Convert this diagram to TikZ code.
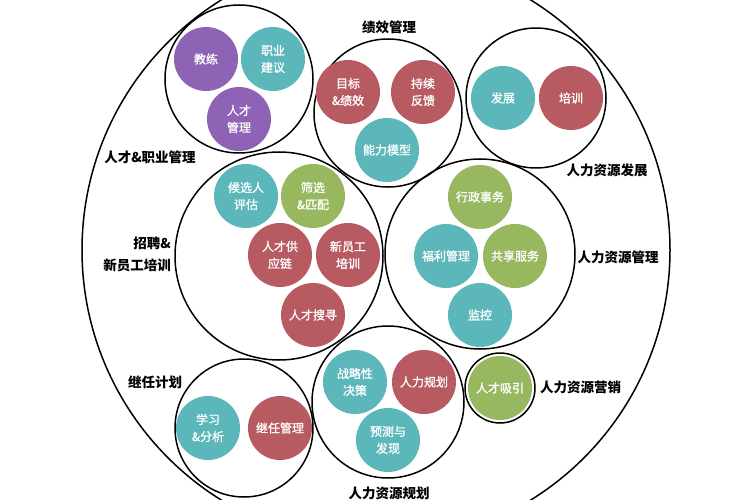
\documentclass[tikz,border=0pt]{standalone}
\usepackage{fontspec}
\setmainfont{Noto Sans CJK SC}
\newfontfamily\bubfont[FakeBold=1.2]{Noto Sans CJK SC}
\definecolor{hrpurple}{RGB}{142,98,180}
\definecolor{hrteal}{RGB}{92,183,186}
\definecolor{hrred}{RGB}{183,90,98}
\definecolor{hrgreen}{RGB}{152,184,96}
\begin{document}
\begin{tikzpicture}[x=1pt,y=-1pt,
  bub/.style={circle, fill=#1, text=white, minimum size=64pt, inner sep=0pt, align=center, font=\bubfont\fontsize{12}{17}\selectfont},
  grp/.style={circle, draw=black, line width=1.5pt, inner sep=0pt, minimum size=#1},
  lab/.style={font=\fontsize{13.5}{22}\selectfont\bfseries, text=black, inner sep=0pt}]
\useasboundingbox (0,0) rectangle (750,500);
\fill[white] (0,0) rectangle (750,500);
\clip (0,0) rectangle (750,500);
\node[grp=588pt] (outer) at (376,250) {};
% group 1
\node[grp=148pt] (g1) at (239,79) {};
\node[bub=hrpurple] (jl) at (206,59) {教练};
\node[bub=hrteal] (zyjy) at (273,59) {职业\\建议};
\node[bub=hrpurple] (rcgl) at (239,119) {人才\\管理};
\node[lab] (l1) at (150,157) {人才\&职业管理};
% group 2
\node[grp=148pt] (g2) at (388,113) {};
\node[bub=hrred] (mb) at (348,92) {目标\\\&绩效};
\node[bub=hrred] (cx) at (423,92) {持续\\反馈};
\node[bub=hrteal] (nl) at (387,150) {能力模型};
\node[lab] (l2) at (389,27) {绩效管理};
% group 3
\node[grp=140pt] (g3) at (536,98) {};
\node[bub=hrteal] (fz) at (503,98) {发展};
\node[bub=hrred] (px) at (571,98) {培训};
\node[lab] (l3) at (607,170) {人力资源发展};
% group 4
\node[grp=208pt] (g4) at (279,256) {};
\node[bub=hrteal] (hx) at (246,196) {候选人\\评估};
\node[bub=hrgreen] (sx) at (313,196) {筛选\\\&匹配};
\node[bub=hrred] (gyl) at (280,255) {人才供\\应链};
\node[bub=hrred] (xyg) at (348,255) {新员工\\培训};
\node[bub=hrred] (ss) at (313,315) {人才搜寻};
\node[lab, anchor=east, align=right] (l4) at (171,254) {招聘\&\\新员工培训};
% group 5
\node[grp=190pt] (g5) at (480,254) {};
\node[bub=hrgreen] (xz) at (480,197) {行政事务};
\node[bub=hrteal] (fl) at (446,256) {福利管理};
\node[bub=hrgreen] (gx) at (515,256) {共享服务};
\node[bub=hrteal] (jk) at (480,315) {监控};
\node[lab] (l5) at (618,257) {人力资源管理};
% group 6
\node[grp=138pt] (g6) at (244,428) {};
\node[bub=hrteal] (xxfx) at (208,428) {学习\\\&分析};
\node[bub=hrred] (jrgl) at (280,428) {继任管理};
\node[lab] (l6) at (155,382) {继任计划};
% group 7
\node[grp=152pt] (g7) at (388,402) {};
\node[bub=hrteal] (zl) at (355,382) {战略性\\决策};
\node[bub=hrred] (rlgh) at (424,382) {人力规划};
\node[bub=hrteal] (yc) at (388,440) {预测与\\发现};
\node[lab] (l7) at (389,493) {人力资源规划};
% group 8
\node[grp=70pt] (g8) at (500,388) {};
\node[bub=hrgreen] (rcxy) at (500,388) {人才吸引};
\node[lab, anchor=west] (l8) at (540,387) {人力资源营销};
\end{tikzpicture}
\end{document}
